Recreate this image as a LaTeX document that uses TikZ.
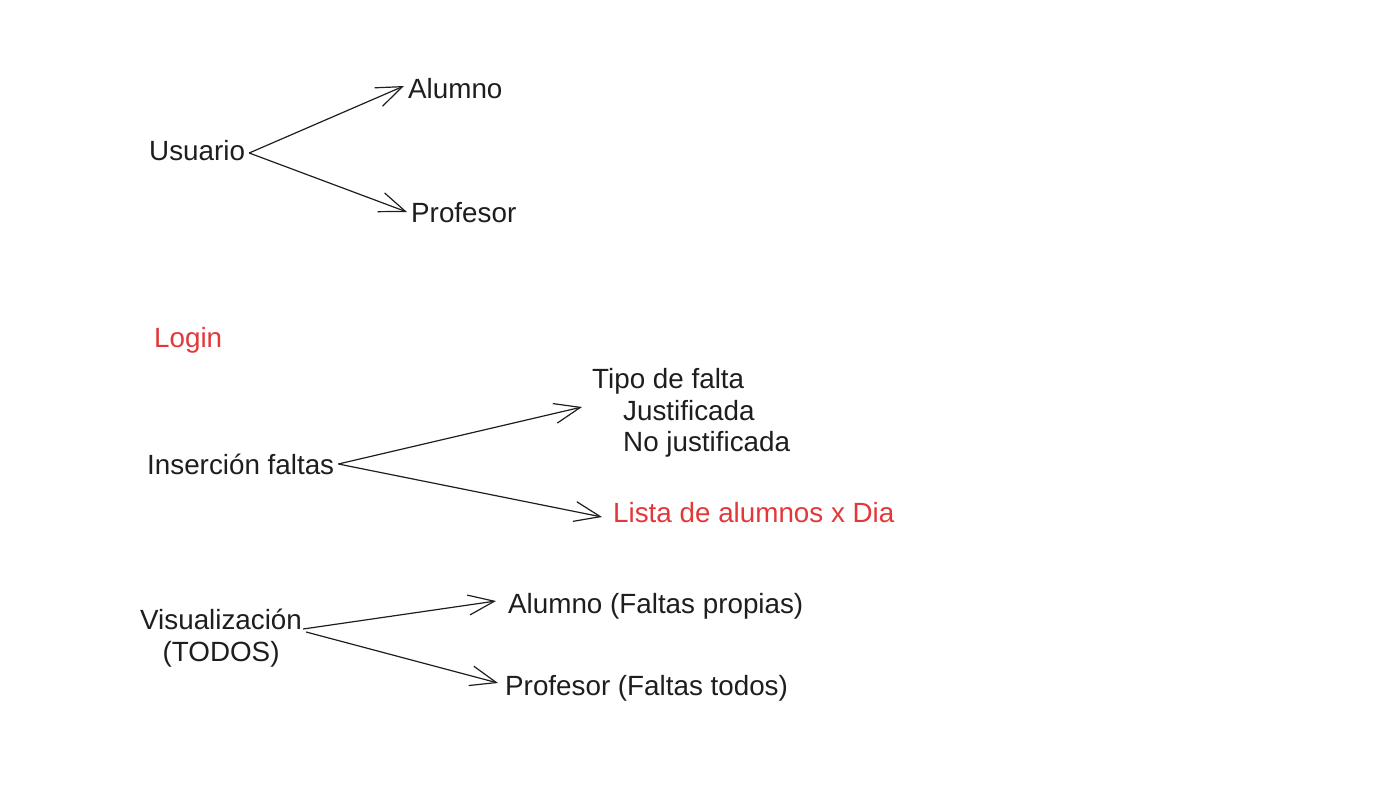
\documentclass[tikz,border=0pt]{standalone}
\usepackage{fontspec}
\setmainfont{Liberation Sans}
\usepackage{xcolor}
\usetikzlibrary{arrows.meta}

\definecolor{ink}{RGB}{30,30,30}
\definecolor{rojo}{RGB}{228,55,58}

\begin{document}
\begin{tikzpicture}[x=1pt, y=-1pt,
	txt/.style={anchor=west, inner sep=4pt, text=ink, font=\fontsize{27.8}{31.5}\selectfont,
		text height=22pt, text depth=2pt},
	flecha/.style={draw=ink, line width=1.2pt, -{Straight Barb[length=26pt, width=20pt]}}]

		% Fix the page size
		\useasboundingbox (0,0) rectangle (1393,806);

		% Usuario with its two kinds
		\node[txt] (usuario) at (145,150) {Usuario};
		\node[txt] (alumno) at (404,88) {Alumno};
		\node[txt] (profesor) at (407,212) {Profesor};
		\draw[flecha] ([yshift=-3pt]usuario.east) -- ([yshift=2pt]alumno.west); % Arrow to Alumno
		\draw[flecha] ([yshift=-3pt]usuario.east) -- (profesor.west); % Arrow to Profesor

		% Login label
		\node[txt, text=rojo] (login) at (150,337) {Login};

		% Insercion de faltas
		\node[txt] (insercion) at (143,464) {Inserción faltas};
		\node[txt, align=left, text height=, text depth=] (tipo) at (588,413) {Tipo de falta\\ \hspace*{31pt}Justificada\\ \hspace*{31pt}No justificada};
		\node[txt, text=rojo] (lista) at (609,512) {Lista de alumnos x Dia};
		\draw[flecha] (insercion.east) -- ([xshift=-6pt, yshift=6pt]tipo.west); % Arrow to Tipo de falta
		\draw[flecha] (insercion.east) -- ([xshift=-7pt, yshift=-5pt]lista.west); % Arrow to Lista

		% Visualizacion
		\node[txt, align=center, text height=, text depth=] (visual) at (136,638) {Visualización\\(TODOS)};
		\node[txt] (alufaltas) at (504,603) {Alumno (Faltas propias)};
		\node[txt] (profaltas) at (501,685) {Profesor (Faltas todos)};
		\draw[flecha] ([xshift=-3pt, yshift=9pt]visual.east) -- ([xshift=-8pt, yshift=2pt]alufaltas.west); % Arrow to Alumno
		\draw[flecha] ([yshift=6pt]visual.east) -- ([xshift=-3pt, yshift=2pt]profaltas.west); % Arrow to Profesor
	\end{tikzpicture}
\end{document}
